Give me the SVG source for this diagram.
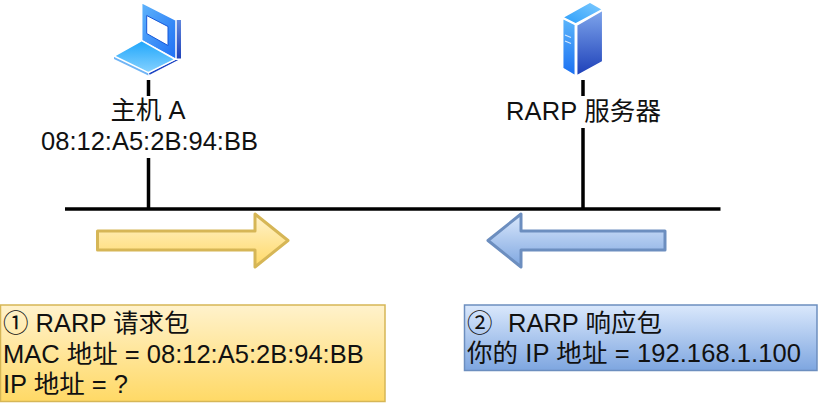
<svg xmlns="http://www.w3.org/2000/svg" width="819" height="403" viewBox="0 0 819 403">
  <style>
    text { font-family: "Liberation Sans", "Noto Sans CJK SC", sans-serif; font-size: 25.5px; fill: #111; }
    .mid { text-anchor: middle; }
    .wire { stroke: #000; stroke-width: 3.5; fill: none; }
    .edge { stroke: #fff; stroke-width: 1.5; stroke-linejoin: round; }
  </style>
  <defs>
    <linearGradient id="yellowFill" x1="0" y1="0" x2="0" y2="1">
      <stop offset="0" stop-color="#fff2cc"/>
      <stop offset="1" stop-color="#ffd966"/>
    </linearGradient>
    <linearGradient id="blueFill" x1="0" y1="0" x2="0" y2="1">
      <stop offset="0" stop-color="#dae8fc"/>
      <stop offset="1" stop-color="#7ea6e0"/>
    </linearGradient>
    <linearGradient id="lidFace" x1="0" y1="0" x2="1" y2="1">
      <stop offset="0" stop-color="#5fb4fb"/>
      <stop offset="1" stop-color="#1e6ff5"/>
    </linearGradient>
    <linearGradient id="deckFace" x1="0" y1="0" x2="0" y2="1">
      <stop offset="0" stop-color="#1fa6fb"/>
      <stop offset="1" stop-color="#86d2ff"/>
    </linearGradient>
    <linearGradient id="darkSide" x1="0" y1="0" x2="0" y2="1">
      <stop offset="0" stop-color="#7fa6ec"/>
      <stop offset="1" stop-color="#1c3fb8"/>
    </linearGradient>
    <linearGradient id="serverFront" x1="0" y1="0" x2="0" y2="1">
      <stop offset="0" stop-color="#5cb6fb"/>
      <stop offset="1" stop-color="#1a6ff2"/>
    </linearGradient>
    <linearGradient id="serverTop" x1="0" y1="1" x2="1" y2="0">
      <stop offset="0" stop-color="#2a9dfa"/>
      <stop offset="1" stop-color="#7fcbff"/>
    </linearGradient>
  </defs>

  <g id="connectors">
    <path class="wire" d="M65 209H720.500"/>
    <path class="wire" d="M148.500 80V96M148.500 158V209"/>
    <path class="wire" d="M583 80V96M583 128V209"/>
  </g>

  <g id="host-a">
    <polygon points="141.700,3 176,20 181,20 181,60 176,60" fill="url(#darkSide)"/>
    <polygon class="edge" points="141.700,2.700 176,20 176,59.300 141.700,40.700" fill="url(#lidFace)"/>
    <polygon points="146.700,15.500 168,26.500 168,45.500 146.700,33.500" fill="#fff" stroke="#1556d8" stroke-width="1"/>
    <polygon class="edge" points="148.300,72.700 175,59.300 181,59.300 149,76" fill="#1d45c4"/>
    <polygon points="114,56 148.300,72.700 148.300,75.500 114,59" fill="#6fb4f5"/>
    <polygon class="edge" points="141.700,40.700 175,59.300 148.300,72.700 114,56" fill="url(#deckFace)"/>
    <text class="mid" x="148" y="119">主机 A</text>
    <text class="mid" x="149.500" y="150">08:12:A5:2B:94:BB</text>
  </g>

  <g id="rarp-server">
    <polygon class="edge" points="562.700,18.300 575.300,24.500 575.300,76 562.700,68.300" fill="url(#serverFront)"/>
    <polygon class="edge" points="576.700,25 602.700,10 602.700,61.700 576.700,76" fill="url(#darkSide)"/>
    <polygon class="edge" points="562.700,17.300 590,2 602.700,9.300 575.700,24" fill="url(#serverTop)"/>
    <path d="M565 35l6 2.500M565 41l6 2.500" stroke="#d5e8ff" stroke-width="1.200" fill="none"/>
    <text class="mid" x="583.500" y="120" textLength="155">RARP 服务器</text>
  </g>

  <g id="request-arrow">
    <polygon points="97.500,231 255,231 255,214 288,240.500 255,267 255,250 97.500,250" fill="url(#yellowFill)" stroke="#d6b656" stroke-width="3" stroke-linejoin="round"/>
  </g>

  <g id="response-arrow">
    <polygon points="665,231 521,231 521,214 488,240.500 521,267 521,250 665,250" fill="url(#blueFill)" stroke="#6c8ebf" stroke-width="3" stroke-linejoin="round"/>
  </g>

  <g id="request-packet">
    <rect x="0.500" y="305" width="384.500" height="96.500" fill="url(#yellowFill)" stroke="#d6b656" stroke-width="1.500"/>
    <text x="3" y="332">① RARP 请求包</text>
    <text x="3" y="363">MAC 地址 = 08:12:A5:2B:94:BB</text>
    <text x="3" y="393">IP 地址 = ?</text>
  </g>

  <g id="response-packet">
    <rect x="464.500" y="305" width="352.500" height="65.500" fill="url(#blueFill)" stroke="#6c8ebf" stroke-width="1.500"/>
    <text x="467" y="332">②<tspan x="508">RARP 响应包</tspan></text>
    <text x="467" y="362" textLength="334">你的 IP 地址 = 192.168.1.100</text>
  </g>
</svg>
